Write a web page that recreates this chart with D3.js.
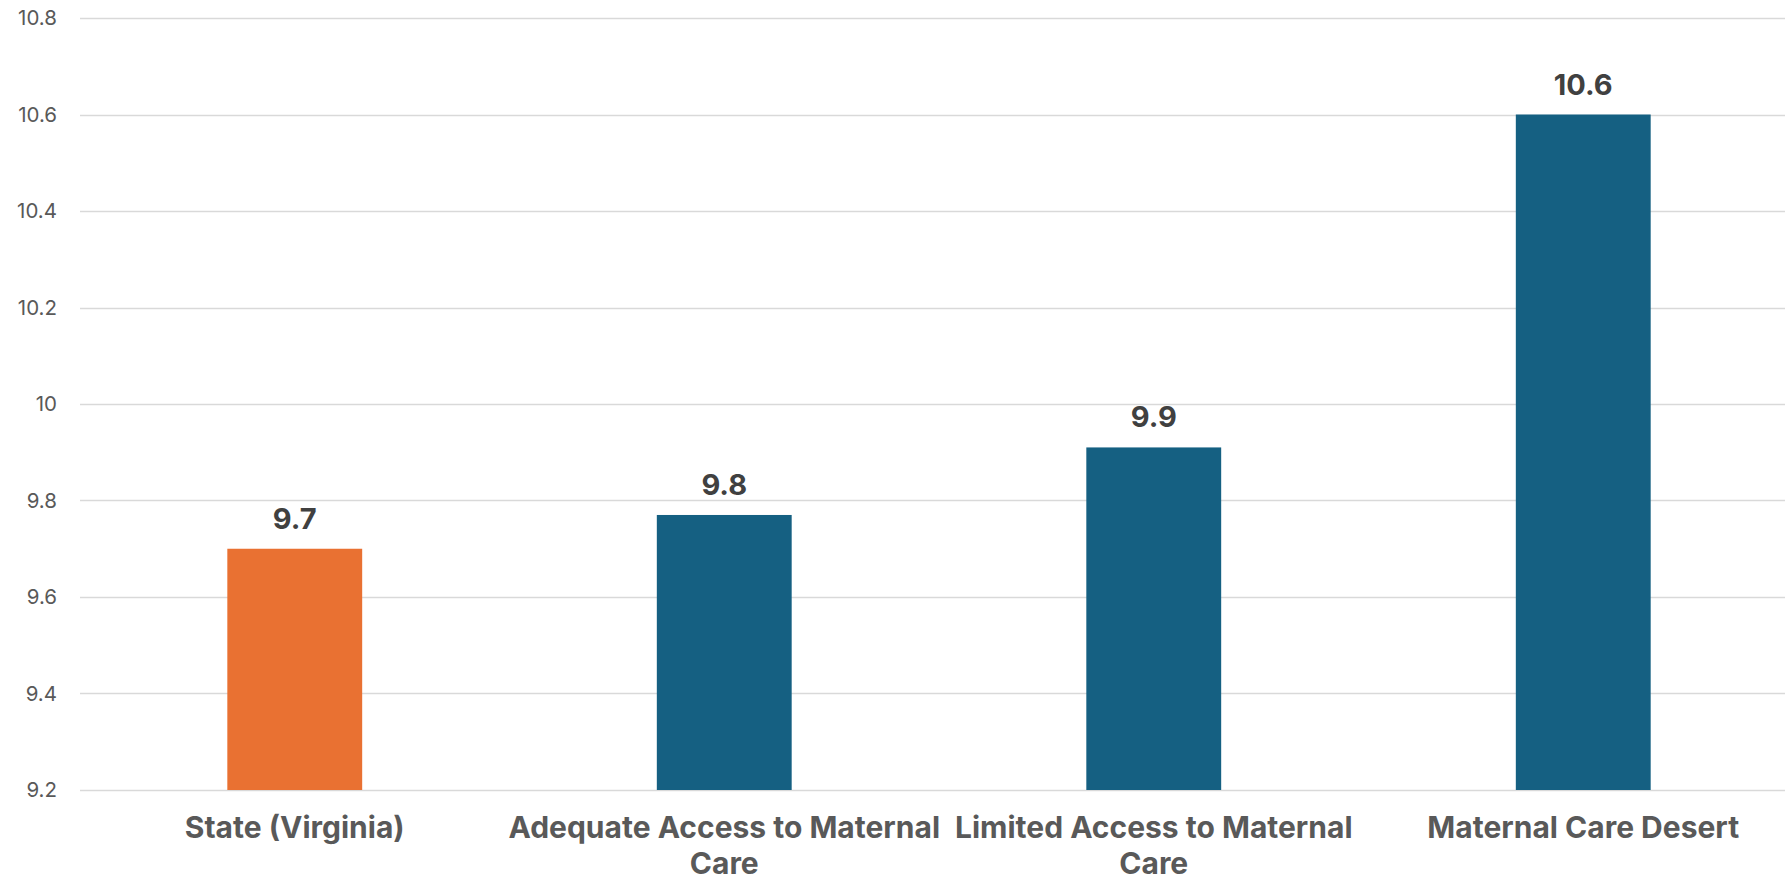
<!DOCTYPE html>
<html>
<head>
<meta charset="utf-8">
<script src="https://cdn.jsdelivr.net/npm/d3@7"></script>
<style>
  body { margin: 0; background: #fff; }
  svg { display: block; }
  text { font-family: Inter, "Open Sans", sans-serif; }
</style>
</head>
<body>
<svg id="chart" width="1785" height="882"></svg>
<script>
// chart data
var categories = ["State (Virginia)", "Adequate Access to Maternal Care", "Limited Access to Maternal Care", "Maternal Care Desert"];
var values = [9.7, 9.77, 9.91, 10.6];
var valueLabels = ["9.7", "9.8", "9.9", "10.6"];
var barColors = ["#E97132", "#156082", "#156082", "#156082"];
var yTicks = [9.2, 9.4, 9.6, 9.8, 10, 10.2, 10.4, 10.6, 10.8];

var width = 1785, height = 882;
var svg = d3.select("#chart");

var x = d3.scaleBand()
    .domain(categories)
    .range([80, 1798])
    .paddingInner(0.686)
    .paddingOuter(0.343);

var y = d3.scaleLinear()
    .domain([9.2, 10.8])
    .range([790, 18]);

// gridlines
svg.append("g")
    .selectAll("line")
    .data(yTicks)
    .enter().append("line")
    .attr("x1", 80)
    .attr("x2", width)
    .attr("y1", function(d) { return Math.round(y(d)) + 0.5; })
    .attr("y2", function(d) { return Math.round(y(d)) + 0.5; })
    .attr("stroke", "#D9D9D9")
    .attr("stroke-width", 1.5);

// y axis labels
var yAxis = d3.axisLeft(y)
    .tickValues(yTicks)
    .tickSize(0)
    .tickPadding(0)
    .tickFormat(function(d) { return String(+d.toFixed(1)); });

var yAxisGroup = svg.append("g")
    .attr("transform", "translate(57,0)")
    .call(yAxis);
yAxisGroup.select(".domain").remove();
yAxisGroup.selectAll("text")
    .attr("fill", "#595959")
    .style("font-size", "20.5px")
    .style("font-family", "Inter, sans-serif");

// bars
var rows = categories.map(function(c, i) {
    return { cat: c, value: values[i], label: valueLabels[i], color: barColors[i] };
});

svg.append("g")
    .selectAll("rect")
    .data(rows)
    .enter().append("rect")
    .attr("x", function(d) { return x(d.cat); })
    .attr("width", x.bandwidth())
    .attr("y", function(d) { return y(d.value); })
    .attr("height", function(d) { return y(9.2) - y(d.value); })
    .attr("fill", function(d) { return d.color; });

// value labels
svg.append("g")
    .selectAll("text")
    .data(rows)
    .enter().append("text")
    .attr("x", function(d) { return x(d.cat) + x.bandwidth() / 2; })
    .attr("y", function(d) { return y(d.value) - 20; })
    .attr("text-anchor", "middle")
    .attr("fill", "#404040")
    .style("font-size", "29px")
    .style("font-weight", "bold")
    .text(function(d) { return d.label; });

// category labels with wrapping
var catLabels = svg.append("g")
    .selectAll("text")
    .data(categories)
    .enter().append("text")
    .attr("x", function(d) { return x(d) + x.bandwidth() / 2; })
    .attr("y", 838)
    .attr("text-anchor", "middle")
    .attr("fill", "#595959")
    .style("font-size", "30px")
    .style("font-weight", "bold");

catLabels.each(function(d) {
    var el = d3.select(this);
    var cx = x(d) + x.bandwidth() / 2;
    var maxW = x.step() + 14;
    var words = d.split(" ");
    var line = [];
    var tspan = el.append("tspan").attr("x", cx).attr("dy", 0);
    for (var i = 0; i < words.length; i++) {
        line.push(words[i]);
        tspan.text(line.join(" "));
        if (tspan.node().getComputedTextLength() > maxW && line.length > 1) {
            line.pop();
            tspan.text(line.join(" "));
            line = [words[i]];
            tspan = el.append("tspan").attr("x", cx).attr("dy", 36).text(words[i]);
        }
    }
});
</script>
</body>
</html>
